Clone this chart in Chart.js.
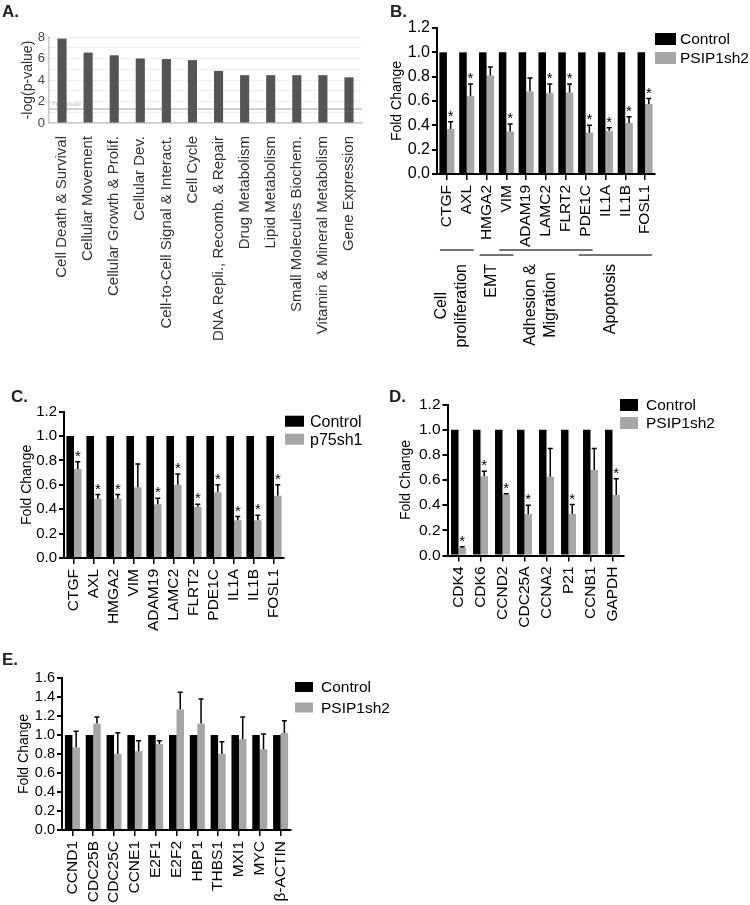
<!DOCTYPE html>
<html>
<head>
<meta charset="utf-8">
<script src="https://cdn.jsdelivr.net/npm/chart.js@4.4.0/dist/chart.umd.min.js"></script>
<style>
    html, body { margin: 0; padding: 0; background: #fff; }
    #page { position: relative; width: 750px; height: 905px; overflow: hidden; background: #fff; font-family: "Liberation Sans", Arial, sans-serif; }
    canvas { position: absolute; }
    .tag { position: absolute; font-weight: bold; font-size: 17px; line-height: 1; color: #222; }
</style>
</head>
<body>
<div id="page">
    <canvas id="chartA" width="380" height="350" style="left:0;top:0"></canvas>
    <canvas id="chartB" width="380" height="370" style="left:370px;top:0"></canvas>
    <canvas id="chartC" width="375" height="270" style="left:0;top:380px"></canvas>
    <canvas id="chartD" width="380" height="270" style="left:370px;top:380px"></canvas>
    <canvas id="chartE" width="420" height="270" style="left:0;top:650px"></canvas>
    <div class="tag" style="left:2px;top:3px">A.</div>
    <div class="tag" style="left:390px;top:3px">B.</div>
    <div class="tag" style="left:11px;top:388px">C.</div>
    <div class="tag" style="left:389px;top:388px">D.</div>
    <div class="tag" style="left:2px;top:651px">E.</div>
</div>
<script>
// ---- data ----
const pathwayLabels = ['Cell Death & Survival', 'Cellular Movement', 'Cellular Growth & Prolif.', 'Cellular Dev.',
    'Cell-to-Cell Signal & Interact.', 'Cell Cycle', 'DNA Repli., Recomb. & Repair', 'Drug Metabolism',
    'Lipid Metabolism', 'Small Molecules Biochem.', 'Vitamin & Mineral Metabolism', 'Gene Expression'];
const pathwayLogP = [7.85, 6.55, 6.3, 6.0, 5.95, 5.85, 4.85, 4.45, 4.45, 4.45, 4.45, 4.25];
const pathwayThreshold = 1.3;

const genesB = ['CTGF', 'AXL', 'HMGA2', 'VIM', 'ADAM19', 'LAMC2', 'FLRT2', 'PDE1C', 'IL1A', 'IL1B', 'FOSL1'];
const controlB = [1, 1, 1, 1, 1, 1, 1, 1, 1, 1, 1];
const psipB = [0.37, 0.64, 0.81, 0.35, 0.68, 0.665, 0.67, 0.34, 0.355, 0.42, 0.575];
const psipBErr = [0.43, 0.74, 0.88, 0.41, 0.79, 0.74, 0.74, 0.40, 0.38, 0.47, 0.62];
const psipBStar = [1, 1, 0, 1, 0, 1, 1, 1, 1, 1, 1];
const groupNamesB = [['Cell', 'proliferation'], ['EMT'], ['Adhesion &', 'Migration'], ['Apoptosis']];
const groupStartB = [0, 2, 3, 7];
const groupEndB = [1, 3, 7, 10];

const genesC = ['CTGF', 'AXL', 'HMGA2', 'VIM', 'ADAM19', 'LAMC2', 'FLRT2', 'PDE1C', 'IL1A', 'IL1B', 'FOSL1'];
const controlC = [1, 1, 1, 1, 1, 1, 1, 1, 1, 1, 1];
const p75C = [0.73, 0.485, 0.485, 0.58, 0.44, 0.60, 0.42, 0.54, 0.31, 0.31, 0.51];
const p75CErr = [0.79, 0.52, 0.52, 0.77, 0.49, 0.69, 0.44, 0.60, 0.34, 0.35, 0.60];
const p75CStar = [1, 1, 1, 0, 1, 1, 1, 1, 1, 1, 1];

const genesD = ['CDK4', 'CDK6', 'CCND2', 'CDC25A', 'CCNA2', 'P21', 'CCNB1', 'GAPDH'];
const controlD = [1, 1, 1, 1, 1, 1, 1, 1];
const psipD = [0.06, 0.63, 0.485, 0.33, 0.625, 0.33, 0.68, 0.48];
const psipDErr = [0.07, 0.67, 0.49, 0.40, 0.85, 0.405, 0.85, 0.61];
const psipDStar = [1, 1, 1, 1, 0, 1, 0, 1];

const genesE = ['CCND1', 'CDC25B', 'CDC25C', 'CCNE1', 'E2F1', 'E2F2', 'HBP1', 'THBS1', 'MXI1', 'MYC', 'β-ACTIN'];
const controlE = [1, 1, 1, 1, 1, 1, 1, 1, 1, 1, 1];
const psipE = [0.87, 1.12, 0.80, 0.83, 0.905, 1.27, 1.12, 0.80, 0.955, 0.85, 1.02];
const psipEErr = [1.04, 1.19, 1.025, 0.94, 0.94, 1.45, 1.38, 0.93, 1.19, 1.01, 1.15];

const FONT = '"Liberation Sans", Arial, sans-serif';
Chart.defaults.font.family = FONT;

// ---- plugins ----
const errorBarPlugin = {
    id: 'errorBars',
    afterDatasetsDraw(chart) {
        const ctx = chart.ctx;
        const yScale = chart.scales.y;
        chart.data.datasets.forEach((ds, i) => {
            if (!ds.errTop) return;
            const meta = chart.getDatasetMeta(i);
            ctx.save();
            ctx.strokeStyle = '#000';
            ctx.fillStyle = '#000';
            ctx.lineWidth = 1.5;
            meta.data.forEach((bar, j) => {
                const top = yScale.getPixelForValue(ds.errTop[j]);
                ctx.beginPath();
                ctx.moveTo(bar.x, bar.y);
                ctx.lineTo(bar.x, top);
                ctx.moveTo(bar.x - 2.5, top);
                ctx.lineTo(bar.x + 2.5, top);
                ctx.stroke();
                if (ds.stars && ds.stars[j]) {
                    ctx.font = `15px ${FONT}`;
                    ctx.textAlign = 'center';
                    ctx.textBaseline = 'alphabetic';
                    ctx.fillText('*', bar.x, top - 1);
                }
            });
            ctx.restore();
        });
    }
};

const sideLegendPlugin = {
    id: 'sideLegend',
    afterDraw(chart, args, opts) {
        const { ctx, chartArea } = chart;
        ctx.save();
        ctx.font = `${opts.fontSize}px ${FONT}`;
        ctx.textAlign = 'left';
        ctx.textBaseline = 'middle';
        chart.data.datasets.forEach((ds, i) => {
            const x = chartArea.right + opts.dx;
            const y = chartArea.top + opts.dy + i * opts.gap;
            ctx.fillStyle = ds.backgroundColor;
            ctx.fillRect(x, y, opts.boxW, opts.boxH);
            ctx.fillStyle = '#000';
            ctx.fillText(ds.label, x + opts.boxW + opts.textGap, y + opts.boxH / 2 + 1);
        });
        ctx.restore();
    }
};

const thresholdPlugin = {
    id: 'threshold',
    beforeDatasetsDraw(chart) {
        const { ctx, chartArea } = chart;
        const y = chart.scales.y.getPixelForValue(pathwayThreshold);
        ctx.save();
        ctx.strokeStyle = '#d0d0d0';
        ctx.lineWidth = 2;
        ctx.beginPath();
        ctx.moveTo(chartArea.left, y);
        ctx.lineTo(chartArea.right, y);
        ctx.stroke();
        ctx.fillStyle = '#c8c8c8';
        ctx.font = `bold 6px ${FONT}`;
        ctx.fillText('Threshold', chartArea.left + 3, y - 3);
        ctx.restore();
    }
};

// gene group brackets under panel B
const groupPlugin = {
    id: 'geneGroups',
    afterDraw(chart) {
        const { ctx, chartArea } = chart;
        const xs = chart.scales.x;
        ctx.save();
        ctx.font = `16px ${FONT}`;
        groupNamesB.forEach((lines, g) => {
            const p1 = xs.getPixelForValue(groupStartB[g]);
            const p2 = xs.getPixelForValue(groupEndB[g]);
            const ly = chartArea.bottom + (g % 2 ? 81 : 76);
            ctx.strokeStyle = '#444';
            ctx.lineWidth = 1.5;
            ctx.beginPath();
            ctx.moveTo(p1 - 7, ly);
            ctx.lineTo(p2 + 7, ly);
            ctx.stroke();

            const blockW = Math.max(...lines.map(t => ctx.measureText(t).width));
            const cx = (p1 + p2) / 2 - 5;
            const top = chartArea.bottom + 90;
            ctx.save();
            ctx.translate(cx, top + blockW / 2);
            ctx.rotate(-Math.PI / 2);
            ctx.fillStyle = '#000';
            ctx.textAlign = 'center';
            ctx.textBaseline = 'middle';
            lines.forEach((t, k) => ctx.fillText(t, 0, (k - (lines.length - 1) / 2) * 20));
            ctx.restore();
        });
        ctx.restore();
    }
};

// ---- panel A ----
new Chart(document.getElementById('chartA'), {
    type: 'bar',
    data: {
        labels: pathwayLabels,
        datasets: [{
            data: pathwayLogP,
            backgroundColor: '#555555',
            barPercentage: 0.35,
            categoryPercentage: 1
        }]
    },
    options: {
        responsive: false,
        animation: false,
        events: [],
        layout: { padding: { top: 37, right: 18, left: 0, bottom: 0 } },
        plugins: { legend: { display: false }, tooltip: { enabled: false } },
        scales: {
            x: {
                grid: { display: false },
                border: { display: true, color: '#c8c8c8', width: 1.5 },
                ticks: { color: '#333', font: { size: 15 }, minRotation: 90, maxRotation: 90, padding: 5, autoSkip: false },
                afterFit: (s) => { s.height = 227; }
            },
            y: {
                min: 0,
                max: 8,
                ticks: { stepSize: 1, autoSkip: false, color: '#444', font: { size: 13 }, padding: 4, callback: (v) => (v % 2 === 0 ? v : '') },
                grid: { color: '#e0e0e0', drawTicks: false, lineWidth: 1 },
                border: { display: true, color: '#c8c8c8', width: 1.5, dash: [2, 2] },
                title: { display: true, text: '-log(p-value)', color: '#333', font: { size: 14 }, padding: { top: 20, bottom: 0 } },
                afterFit: (s) => { s.width = 49; }
            }
        }
    },
    plugins: [thresholdPlugin]
});

// ---- panels B-E ----
const geneChart = (id, cfg) => new Chart(document.getElementById(id), {
    type: 'bar',
    data: {
        labels: cfg.labels,
        datasets: [
            { label: 'Control', data: cfg.control, backgroundColor: '#000000', categoryPercentage: cfg.cat, barPercentage: 1 },
            { label: cfg.name, data: cfg.values, backgroundColor: '#a6a6a6', categoryPercentage: cfg.cat, barPercentage: 1,
              errTop: cfg.err, stars: cfg.stars }
        ]
    },
    options: {
        responsive: false,
        animation: false,
        events: [],
        layout: { padding: { top: cfg.padTop, right: cfg.padRight, left: 0, bottom: 0 } },
        plugins: { legend: { display: false }, tooltip: { enabled: false }, sideLegend: cfg.legend },
        scales: {
            x: {
                grid: { display: true, offset: false, drawOnChartArea: false, drawTicks: true, tickLength: 6, color: '#000', lineWidth: 1.5 },
                border: { display: true, color: '#000', width: 2 },
                ticks: { color: '#000', font: { size: cfg.xFont }, minRotation: 90, maxRotation: 90, padding: 5, autoSkip: false },
                afterFit: (s) => { s.height = cfg.xHeight; }
            },
            y: {
                min: 0,
                max: cfg.yMax,
                ticks: { stepSize: 0.2, autoSkip: false, color: '#000', font: { size: cfg.yFont }, padding: 2, callback: (v) => v.toFixed(1) },
                grid: { display: true, drawOnChartArea: false, drawTicks: true, tickLength: 5, color: '#000', lineWidth: 2 },
                border: { display: true, color: '#000', width: 2 },
                title: { display: true, text: 'Fold Change', color: '#000', font: { size: 14 }, padding: { top: cfg.titlePad, bottom: 0 } },
                afterFit: (s) => { s.width = cfg.yWidth; }
            }
        }
    },
    plugins: [errorBarPlugin, sideLegendPlugin].concat(cfg.extra || [])
});

geneChart('chartB', {
    labels: genesB, control: controlB, values: psipB, err: psipBErr, stars: psipBStar, name: 'PSIP1sh2',
    cat: 0.76, yMax: 1.2, padTop: 28, padRight: 95, yWidth: 67, xHeight: 196, titlePad: 18.6,
    xFont: 15.5, yFont: 16,
    legend: { dx: 0, dy: 5, gap: 19, boxW: 21, boxH: 12, textGap: 4, fontSize: 15.5 },
    extra: [groupPlugin]
});

geneChart('chartC', {
    labels: genesC, control: controlC, values: p75C, err: p75CErr, stars: p75CStar, name: 'p75sh1',
    cat: 0.76, yMax: 1.2, padTop: 31.7, padRight: 91, yWidth: 64, xHeight: 92, titlePad: 18.6,
    xFont: 15.5, yFont: 15,
    legend: { dx: 1, dy: 4, gap: 18, boxW: 19, boxH: 11, textGap: 6, fontSize: 16 }
});

geneChart('chartD', {
    labels: genesD, control: controlD, values: psipD, err: psipDErr, stars: psipDStar, name: 'PSIP1sh2',
    cat: 0.68, yMax: 1.2, padTop: 24.5, padRight: 126.5, yWidth: 77.5, xHeight: 94.5, titlePad: 27.6,
    xFont: 15.5, yFont: 15.5,
    legend: { dx: -3.5, dy: -5.5, gap: 18, boxW: 18, boxH: 12, textGap: 8, fontSize: 15.5 }
});

geneChart('chartE', {
    labels: genesE, control: controlE, values: psipE, err: psipEErr, stars: null, name: 'PSIP1sh2',
    cat: 0.72, yMax: 1.6, padTop: 28, padRight: 129, yWidth: 62, xHeight: 90, titlePad: 15.6,
    xFont: 15.5, yFont: 14.5,
    legend: { dx: 4, dy: 4, gap: 20.5, boxW: 18, boxH: 10, textGap: 8, fontSize: 15.5 }
});
</script>
</body>
</html>
